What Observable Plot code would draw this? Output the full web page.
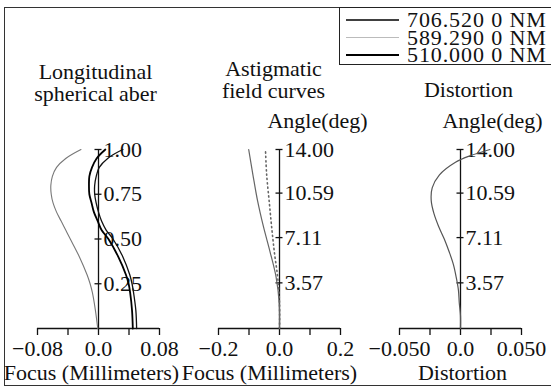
<!DOCTYPE html>
<html>
<head>
<meta charset="utf-8">
<script src="https://cdn.jsdelivr.net/npm/d3@7"></script>
<script src="https://cdn.jsdelivr.net/npm/@observablehq/plot@0.6"></script>
<style>
  html, body { margin: 0; padding: 0; background: #fff; overflow: hidden; }
  #chart { position: relative; width: 551px; height: 387px; overflow: hidden; background: #fff;
           font-family: "Liberation Serif", "Times New Roman", serif; color: #111; }
  #chart svg.panel { position: absolute; left: 0; top: 0; }
  #frame { position: absolute; left: 4px; top: 7px; width: 600px; height: 379px;
           box-sizing: border-box; border: 1.5px solid #333; }
  #legend { position: absolute; left: 339px; top: 7px; overflow: visible; }
</style>
</head>
<body>
<div id="chart"><div id="frame"></div></div>
<script>
// Wavelengths shown in the legend
const wavelengths = ["706.520 0 NM", "589.290 0 NM", "510.000 0 NM"];

// Longitudinal spherical aberration: normalized pupil vs focus shift (mm)
const lsaPupil = [0, 0.1, 0.2, 0.25, 0.3, 0.4, 0.5, 0.55, 0.6, 0.65, 0.7, 0.75, 0.8, 0.85, 0.9, 0.95, 1.0];
const lsa706 = [0.050, 0.049, 0.046, 0.044, 0.041, 0.032, 0.019, 0.010, 0.004, 0.000, -0.003, -0.005, -0.005, -0.003, 0.001, 0.012, 0.032];
const lsa589 = [-0.001, -0.004, -0.008, -0.011, -0.015, -0.025, -0.037, -0.043, -0.049, -0.055, -0.0595, -0.062, -0.0625, -0.0605, -0.055, -0.043, -0.023];
const lsa510 = [0.045, 0.044, 0.0415, 0.0395, 0.036, 0.026, 0.013, 0.004, -0.001, -0.006, -0.009, -0.012, -0.0125, -0.012, -0.0085, -0.0025, 0.009];

// Astigmatic field curves: field angle (deg) vs focus (mm)
const fieldAngle = [0, 2, 4, 6, 8, 10, 12, 14];
const astigTangential = [0, -0.001, -0.011, -0.031, -0.053, -0.072, -0.087, -0.101];
const astigSagittal = [0, 0, -0.006, -0.017, -0.026, -0.034, -0.042, -0.046];

// Distortion vs field angle (deg)
const distAngle = [0, 1, 2, 3, 4, 5, 6, 7, 8, 9, 10, 11, 12, 13, 13.5, 14];
const distortion = [0, 0, -0.001, -0.0017, -0.0035, -0.0058, -0.0093, -0.0133, -0.018, -0.0218, -0.024, -0.0232, -0.0174, -0.0041, 0.0076, 0.0241];

// Tick values and their labels
const lsaTicks = [-0.08, -0.04, 0, 0.04, 0.08];
const lsaTickLabels = ["\u22120.08", "", "0.0", "", "0.08"];
const fieldTicks = [-0.2, -0.1, 0, 0.1, 0.2];
const fieldTickLabels = ["\u22120.2", "", "0.0", "", "0.2"];
const distTicks = [-0.05, -0.025, 0, 0.025, 0.05];
const distTickLabels = ["\u22120.050", "", "0.0", "", "0.050"];
const pupilTicks = [0.25, 0.5, 0.75, 1.0];
const pupilTickLabels = ["0.25", "0.50", "0.75", "1.00"];
const angleTicks = [3.57, 7.11, 10.59, 14.0];
const angleTickLabels = ["3.57", "7.11", "10.59", "14.00"];

// Panel titles
const lsaTitle = "Longitudinal\nspherical aber";
const fieldTitle = "Astigmatic\nfield curves";
const distTitle = "Distortion";
const angleLabel = "Angle(deg)";
const lsaAxisLabel = "Focus (Millimeters)";
const fieldAxisLabel = "Focus (Millimeters)";
const distAxisLabel = "Distortion";

const W = 551, H = 387;
const HALF = 61;           // half width of each panel's x range, px
const FS = 22;             // font size, px
const FONT = "'Liberation Serif', 'Times New Roman', serif";

function panel({center, xDomain, yDomain, xTicks, xLabels, yTicks, yLabels, marks}) {
  const left = center - HALF;
  const lab = (ticks, labels) => d => labels[ticks.indexOf(d)];
  return Plot.plot({
    width: W, height: H,
    marginLeft: left, marginRight: W - left - 2 * HALF,
    marginTop: 149, marginBottom: 59,
    x: {domain: xDomain},
    y: {domain: yDomain, axis: null},
    style: {background: "transparent", fontFamily: FONT, fontSize: FS + "px", color: "#111", overflow: "visible"},
    className: "panel",
    marks: [
      // bottom axis line and ticks
      Plot.ruleY([yDomain[0]], {stroke: "#111", strokeWidth: 1.3}),
      Plot.axisX({ticks: xTicks, tickFormat: lab(xTicks, xLabels), tickSize: 7, tickPadding: 5,
                  label: null, strokeWidth: 1.3, fontSize: FS}),
      // vertical axis through zero with crossing ticks
      Plot.ruleX([0], {stroke: "#111", strokeWidth: 1.3}),
      Plot.ruleY(yTicks, {y: d => d, x1: () => 0, x2: () => 0, insetLeft: -3.5, insetRight: -3.5,
                          stroke: "#111", strokeWidth: 1.3}),
      Plot.text(yTicks, {x: () => 0, y: d => d, text: lab(yTicks, yLabels), dx: 5,
                         textAnchor: "start", fontSize: FS}),
      ...marks
    ]
  });
}

const chart = document.getElementById("chart");

const p1 = panel({
  center: 98, xDomain: [-0.08, 0.08], yDomain: [0, 1],
  xTicks: lsaTicks, xLabels: lsaTickLabels, yTicks: pupilTicks, yLabels: pupilTickLabels,
  marks: [
    Plot.line(lsaPupil, {x: lsa589, y: lsaPupil, curve: "catmull-rom", stroke: "#777", strokeWidth: 1.1}),
    Plot.line(lsaPupil, {x: lsa706, y: lsaPupil, curve: "catmull-rom", stroke: "#111", strokeWidth: 1.3}),
    Plot.line(lsaPupil, {x: lsa510, y: lsaPupil, curve: "catmull-rom", stroke: "#000", strokeWidth: 1.8}),
    Plot.text([lsaTitle], {frameAnchor: "top", dx: -3, dy: -86, lineHeight: 1, fontSize: FS}),
    Plot.text([lsaAxisLabel], {frameAnchor: "bottom", dx: -7, dy: 51, fontSize: FS})
  ]
});

const p2 = panel({
  center: 279, xDomain: [-0.2, 0.2], yDomain: [0, 14],
  xTicks: fieldTicks, xLabels: fieldTickLabels, yTicks: angleTicks, yLabels: angleTickLabels,
  marks: [
    Plot.line(fieldAngle, {x: astigTangential, y: fieldAngle, curve: "catmull-rom", stroke: "#666", strokeWidth: 1.2}),
    Plot.line(fieldAngle, {x: astigSagittal, y: fieldAngle, curve: "catmull-rom", stroke: "#666", strokeWidth: 1.6,
                           strokeDasharray: "1.2,3.2"}),
    Plot.text([fieldTitle], {frameAnchor: "top", dx: -6, dy: -89, lineHeight: 1, fontSize: FS}),
    Plot.text([angleLabel], {frameAnchor: "top", dx: 38, dy: -37, fontSize: FS}),
    Plot.text([fieldAxisLabel], {frameAnchor: "bottom", dx: -10, dy: 51, fontSize: FS})
  ]
});

const p3 = panel({
  center: 460, xDomain: [-0.05, 0.05], yDomain: [0, 14],
  xTicks: distTicks, xLabels: distTickLabels, yTicks: angleTicks, yLabels: angleTickLabels,
  marks: [
    Plot.line(distAngle, {x: distortion, y: distAngle, curve: "catmull-rom", stroke: "#555", strokeWidth: 1.2}),
    Plot.text([distTitle], {frameAnchor: "top", dx: 8, dy: -68, fontSize: FS}),
    Plot.text([angleLabel], {frameAnchor: "top", dx: 32, dy: -37, fontSize: FS}),
    Plot.text([distAxisLabel], {frameAnchor: "bottom", dx: 2, dy: 51, fontSize: FS})
  ]
});

for (const p of [p1, p2, p3]) {
  p.classList.add("panel");
  chart.appendChild(p);
}

// Legend box: one sample line and label per wavelength
const legendStyles = [
  {stroke: "#000", width: 1.3},
  {stroke: "#bbb", width: 1.2},
  {stroke: "#000", width: 1.9}
];
const legend = d3.create("svg")
  .attr("id", "legend")
  .attr("width", 230).attr("height", 62)
  .style("font-family", FONT).style("font-size", FS + "px").style("letter-spacing", "0.9px");
legend.append("rect")
  .attr("x", 0.5).attr("y", 0.5).attr("width", 280).attr("height", 57)
  .attr("fill", "#fff").attr("stroke", "#222").attr("stroke-width", 1);
const rows = legend.selectAll("g.row").data(wavelengths).join("g")
  .attr("transform", (d, i) => `translate(0,${13 + i * 17.5})`);
rows.append("line")
  .attr("x1", 7).attr("x2", 60).attr("y1", 0).attr("y2", 0)
  .attr("stroke", (d, i) => legendStyles[i].stroke)
  .attr("stroke-width", (d, i) => legendStyles[i].width);
rows.append("text")
  .attr("x", 68).attr("dy", "0.32em").attr("fill", "#111")
  .text(d => d);
chart.appendChild(legend.node());
</script>
</body>
</html>
